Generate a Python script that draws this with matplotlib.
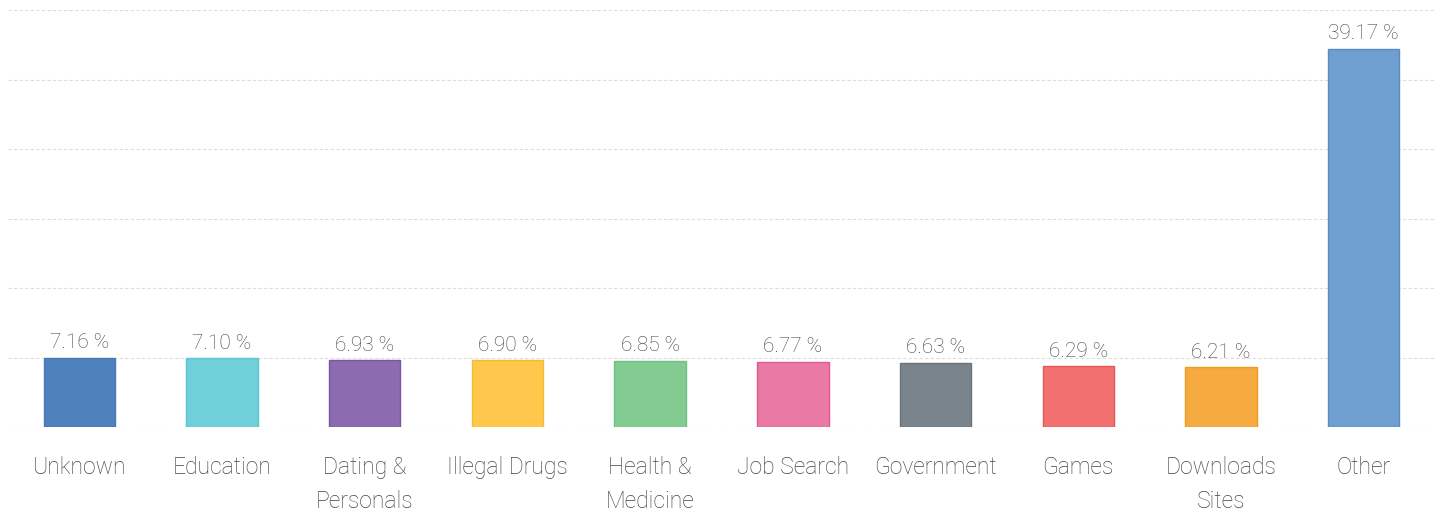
import matplotlib
matplotlib.use("Agg")
import matplotlib.pyplot as plt
import numpy as np

categories = ["Unknown", "Education", "Dating &\nPersonals", "Illegal Drugs",
              "Health &\nMedicine", "Job Search", "Government", "Games",
              "Downloads\nSites", "Other"]
values = [7.16, 7.10, 6.93, 6.90, 6.85, 6.77, 6.63, 6.29, 6.21, 39.17]
colors = ["#4e80bc", "#6fd0d9", "#8c6bb1", "#ffc84d", "#82cc92",
          "#ea79a5", "#7a848d", "#f27170", "#f6ab40", "#6f9ed0"]
edges = ["#4a7ab5", "#5ec4cf", "#7a55a3", "#f7b92e", "#6fc080",
         "#e05a8f", "#6a737b", "#e85555", "#f09a20", "#5a8cc4"]

plt.rcParams['font.family'] = ['Roboto', 'DejaVu Sans']

fig = plt.figure(figsize=(14.43, 5.13), dpi=100)
ax = fig.add_axes([8 / 1443, 86 / 513, 1427 / 1443, 417 / 513])

x = np.arange(len(categories))
ax.bar(x, values, width=0.5, color=colors, edgecolor=edges, linewidth=1, zorder=3)

for xi, v in zip(x, values):
    ax.annotate(f"{v:.2f} %", (xi, v), xytext=(0, 4), textcoords="offset points",
                ha="center", va="bottom", fontsize=15, color="#444444",
                fontweight="light")

step = 7.2
ax.set_ylim(0, step * 6)
ax.set_yticks([step * i for i in range(7)])
ax.yaxis.grid(True, color="#dddddd", linestyle=(0, (3, 2)), linewidth=0.8, zorder=0)
ax.set_xlim(-0.5, len(categories) - 0.5)
ax.set_xticks(x)
ax.set_xticklabels(categories, fontsize=16.5, color="#444444", linespacing=1.6,
                   fontweight="light")
ax.tick_params(axis="x", length=0, pad=21)
ax.tick_params(axis="y", length=0, labelleft=False)
for s in ax.spines.values():
    s.set_visible(False)

fig.savefig("out.png", dpi=100)
plt.close()
